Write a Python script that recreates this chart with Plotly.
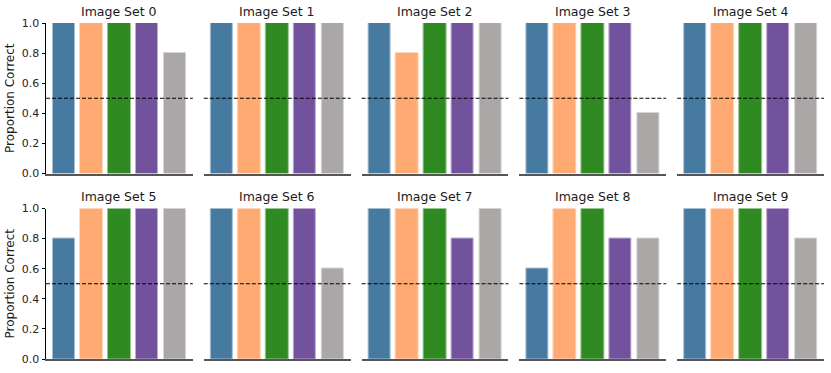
import plotly.graph_objects as go
from plotly.subplots import make_subplots

set_titles = [f"Image Set {i}" for i in range(10)]
models = ["Model A", "Model B", "Model C", "Model D", "Model E"]
bar_colors = ["#467aa0", "#ffaa72", "#2f8a22", "#72519d", "#aba7a6"]
edge_colors = ["#a9c1d4", "#ffd8bf", "#9cc594", "#bcabd2", "#d6d3d3"]
proportions = [
    [1.0, 1.0, 1.0, 1.0, 0.8],
    [1.0, 1.0, 1.0, 1.0, 1.0],
    [1.0, 0.8, 1.0, 1.0, 1.0],
    [1.0, 1.0, 1.0, 1.0, 0.4],
    [1.0, 1.0, 1.0, 1.0, 1.0],
    [0.8, 1.0, 1.0, 1.0, 1.0],
    [1.0, 1.0, 1.0, 1.0, 0.6],
    [1.0, 1.0, 1.0, 0.8, 1.0],
    [0.6, 1.0, 1.0, 0.8, 0.8],
    [1.0, 1.0, 1.0, 1.0, 0.8],
]
y_ticks = [0.0, 0.2, 0.4, 0.6, 0.8, 1.0]
chance = 0.5

W, H = 831, 373
ml, mr, mt, mb = 46, 7, 23, 14
pw, ph = W - ml - mr, H - mt - mb

fig = make_subplots(
    rows=2, cols=5,
    subplot_titles=set_titles,
    horizontal_spacing=11 / pw,
    vertical_spacing=35 / ph,
)

for i, vals in enumerate(proportions):
    r, c = i // 5 + 1, i % 5 + 1
    fig.add_trace(
        go.Bar(
            x=list(range(len(models))),
            y=vals,
            width=0.8,
            marker=dict(color=bar_colors, line=dict(color=edge_colors, width=1)),
            text=models,
            textposition="none",
            hovertemplate="%{text}: %{y}<extra></extra>",
            showlegend=False,
        ),
        row=r, col=c,
    )
    fig.update_xaxes(
        range=[-0.64, 4.64], showticklabels=False, ticks="", showgrid=False,
        zeroline=False, showline=True, linecolor="#555555", linewidth=1.5,
        automargin=False,
        row=r, col=c,
    )
    first = c == 1
    fig.update_yaxes(
        range=[0, 1.0], tickvals=y_ticks, tickformat=".1f",
        showticklabels=first, ticks="outside" if first else "", ticklen=3.5,
        tickcolor="#000", showgrid=False, zeroline=False,
        showline=first, linecolor="#000", linewidth=1,
        tickfont=dict(size=11, color="#262626"),
        automargin=False,
        title=dict(text="Proportion Correct" if first else "",
                   font=dict(size=12, color="#1a1a1a"), standoff=4),
        row=r, col=c,
    )
    xref = "x" if i == 0 else f"x{i+1}"
    yref = "y" if i == 0 else f"y{i+1}"
    fig.add_shape(
        type="line", xref=f"{xref} domain", yref=yref,
        x0=0, x1=1, y0=chance, y1=chance,
        line=dict(color="#000", width=1, dash="4px,2px"),
    )

for ann in fig.layout.annotations:
    ann.font = dict(size=12.5, color="#1a1a1a")
    ann.yshift = 2

fig.update_layout(
    width=W, height=H,
    margin=dict(l=ml, r=mr, t=mt, b=mb, autoexpand=False),
    paper_bgcolor="white", plot_bgcolor="white",
    font=dict(family="DejaVu Sans"),
    bargap=0,
)

fig.write_html(
    "out.html",
    config={"displayModeBar": False},
    post_script="document.body.style.margin='0';document.body.style.overflow='hidden';",
)
